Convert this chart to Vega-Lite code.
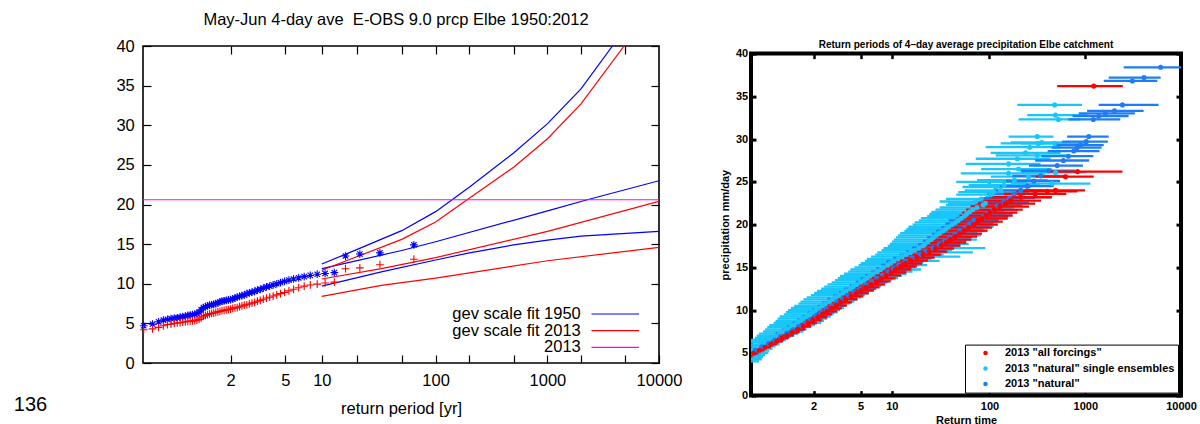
{
  "$schema": "https://vega.github.io/schema/vega-lite/v6.json",
  "padding": {"left": 12, "top": 10, "right": 0, "bottom": 0},
  "background": "white",
  "config": {
    "view": {"stroke": null},
    "font": "Liberation Sans",
    "axis": {"grid": false, "domain": false, "tickColor": "black", "labelColor": "black", "titleColor": "black", "labelFont": "Liberation Sans", "titleFont": "Liberation Sans"},
    "title": {"color": "black", "font": "Liberation Sans"}
  },
  "resolve": {"scale": {"color": "independent", "shape": "independent"}, "legend": {"color": "independent", "shape": "independent"}},
  "datasets": {
    "fits": [
      {"line": "b1", "fit": "1950", "g": 2.25, "v": 12.5}, {"line": "b1", "fit": "1950", "g": 2.97, "v": 14.3}, {"line": "b1", "fit": "1950", "g": 3.9, "v": 16.7}, {"line": "b1", "fit": "1950", "g": 4.6, "v": 19.1}, {"line": "b1", "fit": "1950", "g": 5.3, "v": 22.2}, {"line": "b1", "fit": "1950", "g": 6.21, "v": 26.5}, {"line": "b1", "fit": "1950", "g": 6.91, "v": 30.2}, {"line": "b1", "fit": "1950", "g": 7.6, "v": 34.6}, {"line": "b1", "fit": "1950", "g": 8.25, "v": 40.0}, {"line": "b1", "fit": "1950", "g": 9.21, "v": 48.0},
      {"line": "b2", "fit": "1950", "g": 2.25, "v": 11.9}, {"line": "b2", "fit": "1950", "g": 3.9, "v": 14.2}, {"line": "b2", "fit": "1950", "g": 4.6, "v": 15.3}, {"line": "b2", "fit": "1950", "g": 6.91, "v": 19.2}, {"line": "b2", "fit": "1950", "g": 7.73, "v": 20.6}, {"line": "b2", "fit": "1950", "g": 9.21, "v": 23.0},
      {"line": "b3", "fit": "1950", "g": 2.25, "v": 9.7}, {"line": "b3", "fit": "1950", "g": 3.48, "v": 11.5}, {"line": "b3", "fit": "1950", "g": 4.6, "v": 13.0}, {"line": "b3", "fit": "1950", "g": 5.3, "v": 13.9}, {"line": "b3", "fit": "1950", "g": 6.21, "v": 14.9}, {"line": "b3", "fit": "1950", "g": 6.91, "v": 15.5}, {"line": "b3", "fit": "1950", "g": 7.6, "v": 16.0}, {"line": "b3", "fit": "1950", "g": 9.21, "v": 16.6},
      {"line": "r1", "fit": "2013", "g": 2.25, "v": 11.7}, {"line": "r1", "fit": "2013", "g": 3.9, "v": 15.6}, {"line": "r1", "fit": "2013", "g": 4.6, "v": 17.8}, {"line": "r1", "fit": "2013", "g": 5.25, "v": 20.6}, {"line": "r1", "fit": "2013", "g": 6.21, "v": 24.7}, {"line": "r1", "fit": "2013", "g": 6.91, "v": 28.3}, {"line": "r1", "fit": "2013", "g": 7.6, "v": 32.7}, {"line": "r1", "fit": "2013", "g": 8.49, "v": 40.0}, {"line": "r1", "fit": "2013", "g": 9.21, "v": 46.0},
      {"line": "r2", "fit": "2013", "g": 2.25, "v": 10.6}, {"line": "r2", "fit": "2013", "g": 3.48, "v": 11.9}, {"line": "r2", "fit": "2013", "g": 4.6, "v": 13.3}, {"line": "r2", "fit": "2013", "g": 6.91, "v": 16.6}, {"line": "r2", "fit": "2013", "g": 9.21, "v": 20.4},
      {"line": "r3", "fit": "2013", "g": 2.25, "v": 8.4}, {"line": "r3", "fit": "2013", "g": 3.48, "v": 9.8}, {"line": "r3", "fit": "2013", "g": 4.6, "v": 10.7}, {"line": "r3", "fit": "2013", "g": 6.91, "v": 12.9}, {"line": "r3", "fit": "2013", "g": 9.21, "v": 14.6}
    ],
    "obs": [
      {"s": "1950", "g": -1.425, "v": 4.7}, {"s": "1950", "g": -1.243, "v": 4.9}, {"s": "1950", "g": -1.118, "v": 5.2}, {"s": "1950", "g": -1.02, "v": 5.4}, {"s": "1950", "g": -0.936, "v": 5.5}, {"s": "1950", "g": -0.862, "v": 5.6}, {"s": "1950", "g": -0.794, "v": 5.65}, {"s": "1950", "g": -0.732, "v": 5.7}, {"s": "1950", "g": -0.674, "v": 5.8}, {"s": "1950", "g": -0.619, "v": 5.85}, {"s": "1950", "g": -0.566, "v": 5.9}, {"s": "1950", "g": -0.515, "v": 6.0}, {"s": "1950", "g": -0.466, "v": 6.05}, {"s": "1950", "g": -0.419, "v": 6.1}, {"s": "1950", "g": -0.372, "v": 6.15}, {"s": "1950", "g": -0.327, "v": 6.25}, {"s": "1950", "g": -0.282, "v": 6.4}, {"s": "1950", "g": -0.238, "v": 6.7}, {"s": "1950", "g": -0.194, "v": 7.0}, {"s": "1950", "g": -0.151, "v": 7.1}, {"s": "1950", "g": -0.108, "v": 7.2}, {"s": "1950", "g": -0.066, "v": 7.3}, {"s": "1950", "g": -0.023, "v": 7.35}, {"s": "1950", "g": 0.019, "v": 7.4}, {"s": "1950", "g": 0.062, "v": 7.5}, {"s": "1950", "g": 0.104, "v": 7.6}, {"s": "1950", "g": 0.147, "v": 7.7}, {"s": "1950", "g": 0.19, "v": 7.8}, {"s": "1950", "g": 0.234, "v": 7.85}, {"s": "1950", "g": 0.278, "v": 7.9}, {"s": "1950", "g": 0.322, "v": 7.95}, {"s": "1950", "g": 0.367, "v": 8.0}, {"s": "1950", "g": 0.412, "v": 8.1}, {"s": "1950", "g": 0.458, "v": 8.2}, {"s": "1950", "g": 0.505, "v": 8.3}, {"s": "1950", "g": 0.553, "v": 8.4}, {"s": "1950", "g": 0.602, "v": 8.5}, {"s": "1950", "g": 0.651, "v": 8.6}, {"s": "1950", "g": 0.703, "v": 8.75}, {"s": "1950", "g": 0.755, "v": 8.85}, {"s": "1950", "g": 0.809, "v": 8.95}, {"s": "1950", "g": 0.865, "v": 9.05}, {"s": "1950", "g": 0.922, "v": 9.2}, {"s": "1950", "g": 0.982, "v": 9.3}, {"s": "1950", "g": 1.043, "v": 9.45}, {"s": "1950", "g": 1.108, "v": 9.6}, {"s": "1950", "g": 1.175, "v": 9.7}, {"s": "1950", "g": 1.246, "v": 9.85}, {"s": "1950", "g": 1.32, "v": 10.0}, {"s": "1950", "g": 1.399, "v": 10.15}, {"s": "1950", "g": 1.483, "v": 10.3}, {"s": "1950", "g": 1.572, "v": 10.45}, {"s": "1950", "g": 1.668, "v": 10.6}, {"s": "1950", "g": 1.773, "v": 10.75}, {"s": "1950", "g": 1.887, "v": 10.9}, {"s": "1950", "g": 2.013, "v": 11.05}, {"s": "1950", "g": 2.156, "v": 11.2}, {"s": "1950", "g": 2.318, "v": 11.3}, {"s": "1950", "g": 2.509, "v": 11.4}, {"s": "1950", "g": 2.74, "v": 13.5}, {"s": "1950", "g": 3.036, "v": 13.75}, {"s": "1950", "g": 3.45, "v": 13.9}, {"s": "1950", "g": 4.151, "v": 14.9},
      {"s": "2013", "g": -1.425, "v": 4.2}, {"s": "2013", "g": -1.243, "v": 4.3}, {"s": "2013", "g": -1.118, "v": 4.5}, {"s": "2013", "g": -1.02, "v": 4.7}, {"s": "2013", "g": -0.936, "v": 4.85}, {"s": "2013", "g": -0.862, "v": 4.9}, {"s": "2013", "g": -0.794, "v": 5.0}, {"s": "2013", "g": -0.732, "v": 5.05}, {"s": "2013", "g": -0.674, "v": 5.1}, {"s": "2013", "g": -0.619, "v": 5.15}, {"s": "2013", "g": -0.566, "v": 5.2}, {"s": "2013", "g": -0.515, "v": 5.25}, {"s": "2013", "g": -0.466, "v": 5.3}, {"s": "2013", "g": -0.419, "v": 5.3}, {"s": "2013", "g": -0.372, "v": 5.35}, {"s": "2013", "g": -0.327, "v": 5.4}, {"s": "2013", "g": -0.282, "v": 5.5}, {"s": "2013", "g": -0.238, "v": 5.7}, {"s": "2013", "g": -0.194, "v": 5.9}, {"s": "2013", "g": -0.151, "v": 6.0}, {"s": "2013", "g": -0.108, "v": 6.1}, {"s": "2013", "g": -0.066, "v": 6.2}, {"s": "2013", "g": -0.023, "v": 6.25}, {"s": "2013", "g": 0.019, "v": 6.3}, {"s": "2013", "g": 0.062, "v": 6.4}, {"s": "2013", "g": 0.104, "v": 6.45}, {"s": "2013", "g": 0.147, "v": 6.5}, {"s": "2013", "g": 0.19, "v": 6.6}, {"s": "2013", "g": 0.234, "v": 6.65}, {"s": "2013", "g": 0.278, "v": 6.7}, {"s": "2013", "g": 0.322, "v": 6.75}, {"s": "2013", "g": 0.367, "v": 6.8}, {"s": "2013", "g": 0.412, "v": 6.9}, {"s": "2013", "g": 0.458, "v": 6.95}, {"s": "2013", "g": 0.505, "v": 7.0}, {"s": "2013", "g": 0.553, "v": 7.1}, {"s": "2013", "g": 0.602, "v": 7.2}, {"s": "2013", "g": 0.651, "v": 7.3}, {"s": "2013", "g": 0.703, "v": 7.35}, {"s": "2013", "g": 0.755, "v": 7.45}, {"s": "2013", "g": 0.809, "v": 7.55}, {"s": "2013", "g": 0.865, "v": 7.65}, {"s": "2013", "g": 0.922, "v": 7.8}, {"s": "2013", "g": 0.982, "v": 7.9}, {"s": "2013", "g": 1.043, "v": 8.05}, {"s": "2013", "g": 1.108, "v": 8.2}, {"s": "2013", "g": 1.175, "v": 8.3}, {"s": "2013", "g": 1.246, "v": 8.45}, {"s": "2013", "g": 1.32, "v": 8.6}, {"s": "2013", "g": 1.399, "v": 8.75}, {"s": "2013", "g": 1.483, "v": 8.9}, {"s": "2013", "g": 1.572, "v": 9.1}, {"s": "2013", "g": 1.668, "v": 9.3}, {"s": "2013", "g": 1.773, "v": 9.5}, {"s": "2013", "g": 1.887, "v": 9.7}, {"s": "2013", "g": 2.013, "v": 9.85}, {"s": "2013", "g": 2.156, "v": 9.95}, {"s": "2013", "g": 2.318, "v": 10.1}, {"s": "2013", "g": 2.509, "v": 10.2}, {"s": "2013", "g": 2.74, "v": 11.9}, {"s": "2013", "g": 3.036, "v": 12.0}, {"s": "2013", "g": 3.45, "v": 12.4}, {"s": "2013", "g": 4.151, "v": 13.1}
    ],
    "leg": [
      {"label": "gev scale fit 1950", "fit": "1950", "v": 6.18},
      {"label": "gev scale fit 2013", "fit": "2013", "v": 4.08},
      {"label": "2013", "fit": "obs", "v": 1.98}
    ],
    "ens": [
      {"s":"S","v":4.0,"g":-1.30,"lo":-1.60,"hi":-0.95},{"s":"S","v":4.25,"g":-1.25,"lo":-1.55,"hi":-0.88},{"s":"S","v":4.5,"g":-1.20,"lo":-1.50,"hi":-0.85},{"s":"S","v":4.75,"g":-1.20,"lo":-1.55,"hi":-0.80},{"s":"S","v":5.0,"g":-1.15,"lo":-1.50,"hi":-0.72},{"s":"S","v":5.25,"g":-1.10,"lo":-1.45,"hi":-0.70},{"s":"S","v":5.5,"g":-1.05,"lo":-1.40,"hi":-0.62},{"s":"S","v":5.75,"g":-0.98,"lo":-1.35,"hi":-0.55},{"s":"S","v":6.0,"g":-0.90,"lo":-1.30,"hi":-0.45},{"s":"S","v":6.25,"g":-0.80,"lo":-1.25,"hi":-0.40},{"s":"S","v":6.5,"g":-0.72,"lo":-1.15,"hi":-0.30},{"s":"S","v":6.75,"g":-0.62,"lo":-1.05,"hi":-0.22},{"s":"S","v":7.0,"g":-0.55,"lo":-1.00,"hi":-0.10},{"s":"S","v":7.25,"g":-0.45,"lo":-0.95,"hi":0.00},{"s":"S","v":7.5,"g":-0.35,"lo":-0.85,"hi":0.12},{"s":"S","v":7.75,"g":-0.28,"lo":-0.80,"hi":0.20},{"s":"S","v":8.0,"g":-0.18,"lo":-0.75,"hi":0.30},{"s":"S","v":8.25,"g":-0.10,"lo":-0.70,"hi":0.40},{"s":"S","v":8.5,"g":-0.02,"lo":-0.60,"hi":0.55},{"s":"S","v":8.75,"g":0.05,"lo":-0.55,"hi":0.62},{"s":"S","v":9.0,"g":0.12,"lo":-0.50,"hi":0.70},{"s":"S","v":9.25,"g":0.20,"lo":-0.45,"hi":0.78},{"s":"S","v":9.5,"g":0.28,"lo":-0.35,"hi":0.85},{"s":"S","v":9.75,"g":0.35,"lo":-0.30,"hi":0.95},{"s":"S","v":10.0,"g":0.42,"lo":-0.25,"hi":1.00},{"s":"S","v":10.25,"g":0.50,"lo":-0.18,"hi":1.10},{"s":"S","v":10.5,"g":0.58,"lo":-0.10,"hi":1.15},{"s":"S","v":10.75,"g":0.65,"lo":0.00,"hi":1.25},{"s":"S","v":11.0,"g":0.75,"lo":0.05,"hi":1.35},{"s":"S","v":11.25,"g":0.82,"lo":0.12,"hi":1.42},{"s":"S","v":11.5,"g":0.90,"lo":0.20,"hi":1.52},{"s":"S","v":11.75,"g":0.98,"lo":0.30,"hi":1.60},{"s":"S","v":12.0,"g":1.07,"lo":0.38,"hi":1.70},{"s":"S","v":12.25,"g":1.15,"lo":0.45,"hi":1.80},{"s":"S","v":12.5,"g":1.25,"lo":0.55,"hi":1.88},{"s":"S","v":12.75,"g":1.32,"lo":0.62,"hi":1.98},{"s":"S","v":13.0,"g":1.40,"lo":0.70,"hi":2.05},{"s":"S","v":13.25,"g":1.50,"lo":0.80,"hi":2.15},{"s":"S","v":13.5,"g":1.58,"lo":0.88,"hi":2.25},{"s":"S","v":13.75,"g":1.65,"lo":0.95,"hi":2.40},{"s":"S","v":14.0,"g":1.72,"lo":1.00,"hi":2.50},{"s":"S","v":14.25,"g":1.80,"lo":1.10,"hi":2.60},{"s":"S","v":14.5,"g":1.90,"lo":1.20,"hi":2.75},{"s":"S","v":14.75,"g":1.98,"lo":1.25,"hi":2.95},{"s":"S","v":15.0,"g":2.05,"lo":1.35,"hi":2.80},{"s":"S","v":15.25,"g":2.15,"lo":1.45,"hi":3.10},{"s":"S","v":15.5,"g":2.22,"lo":1.50,"hi":3.00},{"s":"S","v":15.75,"g":2.30,"lo":1.60,"hi":3.40},{"s":"S","v":16.0,"g":2.40,"lo":1.65,"hi":3.20},{"s":"S","v":16.25,"g":2.50,"lo":1.75,"hi":3.90},{"s":"S","v":16.5,"g":2.60,"lo":1.85,"hi":3.50},{"s":"S","v":16.75,"g":2.70,"lo":1.90,"hi":4.20},{"s":"S","v":17.0,"g":2.80,"lo":2.00,"hi":3.70},{"s":"S","v":17.25,"g":2.90,"lo":2.05,"hi":4.50},{"s":"S","v":17.5,"g":3.00,"lo":2.15,"hi":3.90},{"s":"S","v":17.75,"g":3.05,"lo":2.20,"hi":4.10},{"s":"S","v":18.0,"g":3.12,"lo":2.25,"hi":4.00},{"s":"S","v":18.25,"g":3.20,"lo":2.30,"hi":4.30},{"s":"S","v":18.5,"g":3.25,"lo":2.35,"hi":4.15},{"s":"S","v":18.75,"g":3.32,"lo":2.40,"hi":4.40},{"s":"S","v":19.0,"g":3.40,"lo":2.45,"hi":4.30},{"s":"S","v":19.25,"g":3.48,"lo":2.55,"hi":4.55},{"s":"S","v":19.5,"g":3.55,"lo":2.60,"hi":4.45},{"s":"S","v":19.75,"g":3.62,"lo":2.65,"hi":4.70},{"s":"S","v":20.0,"g":3.70,"lo":2.75,"hi":4.65},{"s":"S","v":20.25,"g":3.78,"lo":2.80,"hi":4.80},{"s":"S","v":20.5,"g":3.85,"lo":2.90,"hi":4.75},{"s":"S","v":20.75,"g":3.92,"lo":2.95,"hi":4.90},{"s":"S","v":21.0,"g":4.00,"lo":3.10,"hi":4.85},{"s":"S","v":21.25,"g":4.05,"lo":3.15,"hi":5.00},{"s":"S","v":21.5,"g":4.12,"lo":3.20,"hi":4.95},{"s":"S","v":21.75,"g":4.20,"lo":3.30,"hi":5.10},{"s":"S","v":22.0,"g":4.30,"lo":3.40,"hi":5.20},
      {"s":"S","v":22.3,"g":4.45,"lo":3.55,"hi":5.35},{"s":"S","v":22.5,"g":4.50,"lo":3.60,"hi":5.45},{"s":"S","v":22.7,"g":4.27,"lo":3.40,"hi":5.20},{"s":"S","v":23.0,"g":4.40,"lo":3.55,"hi":5.30},{"s":"S","v":23.2,"g":5.35,"lo":4.50,"hi":6.10},{"s":"S","v":23.5,"g":4.63,"lo":3.80,"hi":5.45},{"s":"S","v":23.8,"g":4.70,"lo":3.85,"hi":5.55},{"s":"S","v":24.0,"g":4.87,"lo":4.00,"hi":5.70},{"s":"S","v":24.4,"g":4.75,"lo":3.95,"hi":5.60},{"s":"S","v":24.6,"g":4.95,"lo":4.10,"hi":5.80},{"s":"S","v":24.8,"g":6.11,"lo":5.11,"hi":7.03},{"s":"S","v":25.0,"g":4.60,"lo":3.80,"hi":5.50},{"s":"S","v":25.2,"g":5.20,"lo":4.30,"hi":6.00},{"s":"S","v":25.6,"g":5.54,"lo":4.63,"hi":6.43},{"s":"S","v":26.0,"g":5.06,"lo":3.91,"hi":5.95},{"s":"S","v":26.1,"g":6.19,"lo":5.35,"hi":6.91},{"s":"S","v":26.5,"g":5.30,"lo":4.40,"hi":6.10},{"s":"S","v":27.1,"g":5.06,"lo":4.03,"hi":5.83},{"s":"S","v":27.7,"g":5.27,"lo":4.27,"hi":6.07},{"s":"S","v":28.1,"g":5.75,"lo":4.75,"hi":6.55},{"s":"S","v":28.4,"g":5.47,"lo":4.63,"hi":6.31},{"s":"S","v":29.05,"g":5.57,"lo":4.51,"hi":6.31},{"s":"S","v":29.5,"g":5.77,"lo":4.87,"hi":6.43},{"s":"S","v":29.5,"g":6.17,"lo":5.35,"hi":6.91},{"s":"S","v":29.6,"g":5.86,"lo":5.11,"hi":6.55},{"s":"S","v":30.3,"g":5.75,"lo":5.06,"hi":6.14},{"s":"S","v":32.3,"g":6.26,"lo":5.30,"hi":6.79},{"s":"S","v":32.8,"g":6.19,"lo":5.51,"hi":6.95},{"s":"S","v":34.0,"g":6.17,"lo":5.27,"hi":6.83},
      {"s":"N","v":4.9,"g":-1.20,"lo":-1.40,"hi":-1.00},{"s":"N","v":5.3,"g":-1.04,"lo":-1.24,"hi":-0.84},{"s":"N","v":5.7,"g":-0.88,"lo":-1.08,"hi":-0.66},{"s":"N","v":6.1,"g":-0.72,"lo":-0.95,"hi":-0.50},{"s":"N","v":6.5,"g":-0.57,"lo":-0.80,"hi":-0.34},{"s":"N","v":6.9,"g":-0.43,"lo":-0.68,"hi":-0.18},{"s":"N","v":7.3,"g":-0.28,"lo":-0.55,"hi":-0.02},{"s":"N","v":7.7,"g":-0.13,"lo":-0.40,"hi":0.14},{"s":"N","v":8.1,"g":0.01,"lo":-0.27,"hi":0.28},{"s":"N","v":8.5,"g":0.16,"lo":-0.14,"hi":0.45},{"s":"N","v":8.9,"g":0.28,"lo":-0.02,"hi":0.58},{"s":"N","v":9.3,"g":0.42,"lo":0.10,"hi":0.72},{"s":"N","v":9.7,"g":0.54,"lo":0.22,"hi":0.86},{"s":"N","v":10.1,"g":0.67,"lo":0.34,"hi":1.00},{"s":"N","v":10.5,"g":0.80,"lo":0.46,"hi":1.14},{"s":"N","v":10.9,"g":0.92,"lo":0.58,"hi":1.26},{"s":"N","v":11.3,"g":1.06,"lo":0.70,"hi":1.42},{"s":"N","v":11.7,"g":1.20,"lo":0.84,"hi":1.56},{"s":"N","v":12.1,"g":1.34,"lo":0.98,"hi":1.70},{"s":"N","v":12.5,"g":1.48,"lo":1.10,"hi":1.86},{"s":"N","v":12.9,"g":1.62,"lo":1.24,"hi":2.00},{"s":"N","v":13.3,"g":1.76,"lo":1.38,"hi":2.14},{"s":"N","v":13.7,"g":1.89,"lo":1.50,"hi":2.28},{"s":"N","v":14.1,"g":2.02,"lo":1.62,"hi":2.42},{"s":"N","v":14.5,"g":2.16,"lo":1.75,"hi":2.58},{"s":"N","v":14.9,"g":2.29,"lo":1.88,"hi":2.72},{"s":"N","v":15.3,"g":2.42,"lo":2.00,"hi":2.86},{"s":"N","v":15.7,"g":2.57,"lo":2.12,"hi":3.02},{"s":"N","v":16.1,"g":2.74,"lo":2.28,"hi":3.20},{"s":"N","v":16.5,"g":2.91,"lo":2.44,"hi":3.38},{"s":"N","v":16.9,"g":3.08,"lo":2.60,"hi":3.56},{"s":"N","v":17.3,"g":3.24,"lo":2.74,"hi":3.74},{"s":"N","v":17.7,"g":3.39,"lo":2.88,"hi":3.90},{"s":"N","v":18.1,"g":3.52,"lo":3.00,"hi":4.04},{"s":"N","v":18.5,"g":3.64,"lo":3.10,"hi":4.18},{"s":"N","v":18.9,"g":3.77,"lo":3.22,"hi":4.32},{"s":"N","v":19.3,"g":3.89,"lo":3.32,"hi":4.46},{"s":"N","v":19.7,"g":4.02,"lo":3.44,"hi":4.60},{"s":"N","v":20.1,"g":4.12,"lo":3.54,"hi":4.70},{"s":"N","v":20.5,"g":4.22,"lo":3.62,"hi":4.82},{"s":"N","v":20.9,"g":4.45,"lo":3.85,"hi":5.05},{"s":"N","v":21.3,"g":4.56,"lo":3.95,"hi":5.15},{"s":"N","v":21.7,"g":4.68,"lo":4.05,"hi":5.28},{"s":"N","v":22.2,"g":4.79,"lo":4.15,"hi":5.40},{"s":"N","v":22.6,"g":4.95,"lo":4.30,"hi":5.55},{"s":"N","v":23.1,"g":5.08,"lo":4.45,"hi":5.70},{"s":"N","v":23.6,"g":5.19,"lo":4.55,"hi":5.82},{"s":"N","v":24.0,"g":5.35,"lo":4.70,"hi":5.98},{"s":"N","v":24.5,"g":5.51,"lo":4.85,"hi":6.15},{"s":"N","v":25.1,"g":5.67,"lo":5.00,"hi":6.30},{"s":"N","v":25.7,"g":5.83,"lo":5.15,"hi":6.48},{"s":"N","v":26.3,"g":6.02,"lo":5.35,"hi":6.66},{"s":"N","v":26.9,"g":6.23,"lo":5.55,"hi":6.85},{"s":"N","v":27.5,"g":6.38,"lo":5.70,"hi":7.00},{"s":"N","v":28.0,"g":6.50,"lo":5.85,"hi":7.10},{"s":"N","v":28.6,"g":6.63,"lo":6.00,"hi":7.25},{"s":"N","v":29.0,"g":6.71,"lo":6.10,"hi":7.30},{"s":"N","v":29.3,"g":6.79,"lo":6.20,"hi":7.35},{"s":"N","v":29.7,"g":6.93,"lo":6.35,"hi":7.45},{"s":"N","v":30.3,"g":6.99,"lo":6.47,"hi":7.47},{"s":"N","v":32.3,"g":7.10,"lo":6.50,"hi":7.75},{"s":"N","v":32.7,"g":7.23,"lo":6.60,"hi":7.95},{"s":"N","v":33.0,"g":7.39,"lo":6.75,"hi":8.10},{"s":"N","v":33.3,"g":7.61,"lo":6.95,"hi":8.31},{"s":"N","v":34.0,"g":7.80,"lo":7.23,"hi":8.67},{"s":"N","v":36.8,"g":8.04,"lo":7.35,"hi":8.64},{"s":"N","v":37.2,"g":8.32,"lo":7.47,"hi":8.72},{"s":"N","v":38.4,"g":8.72,"lo":7.83,"hi":9.40},
      {"s":"A","v":4.6,"g":-1.22,"lo":-1.34,"hi":-1.10},{"s":"A","v":4.95,"g":-1.08,"lo":-1.20,"hi":-0.96},{"s":"A","v":5.3,"g":-0.94,"lo":-1.07,"hi":-0.81},{"s":"A","v":5.65,"g":-0.80,"lo":-0.93,"hi":-0.66},{"s":"A","v":6.0,"g":-0.66,"lo":-0.80,"hi":-0.52},{"s":"A","v":6.35,"g":-0.52,"lo":-0.67,"hi":-0.37},{"s":"A","v":6.7,"g":-0.40,"lo":-0.55,"hi":-0.24},{"s":"A","v":7.05,"g":-0.27,"lo":-0.43,"hi":-0.11},{"s":"A","v":7.4,"g":-0.14,"lo":-0.31,"hi":0.03},{"s":"A","v":7.75,"g":-0.01,"lo":-0.19,"hi":0.17},{"s":"A","v":8.1,"g":0.12,"lo":-0.07,"hi":0.31},{"s":"A","v":8.45,"g":0.24,"lo":0.04,"hi":0.44},{"s":"A","v":8.8,"g":0.35,"lo":0.14,"hi":0.56},{"s":"A","v":9.15,"g":0.47,"lo":0.25,"hi":0.69},{"s":"A","v":9.5,"g":0.58,"lo":0.35,"hi":0.81},{"s":"A","v":9.85,"g":0.69,"lo":0.45,"hi":0.93},{"s":"A","v":10.2,"g":0.80,"lo":0.55,"hi":1.05},{"s":"A","v":10.55,"g":0.91,"lo":0.65,"hi":1.17},{"s":"A","v":10.9,"g":1.02,"lo":0.75,"hi":1.29},{"s":"A","v":11.25,"g":1.14,"lo":0.86,"hi":1.42},{"s":"A","v":11.6,"g":1.27,"lo":0.98,"hi":1.56},{"s":"A","v":11.95,"g":1.39,"lo":1.09,"hi":1.69},{"s":"A","v":12.3,"g":1.51,"lo":1.20,"hi":1.82},{"s":"A","v":12.65,"g":1.63,"lo":1.31,"hi":1.95},{"s":"A","v":13.0,"g":1.76,"lo":1.43,"hi":2.09},{"s":"A","v":13.35,"g":1.88,"lo":1.54,"hi":2.22},{"s":"A","v":13.7,"g":1.99,"lo":1.64,"hi":2.34},{"s":"A","v":14.05,"g":2.11,"lo":1.75,"hi":2.47},{"s":"A","v":14.4,"g":2.23,"lo":1.86,"hi":2.60},{"s":"A","v":14.75,"g":2.34,"lo":1.96,"hi":2.72},{"s":"A","v":15.1,"g":2.46,"lo":2.07,"hi":2.85},{"s":"A","v":15.45,"g":2.58,"lo":2.18,"hi":2.98},{"s":"A","v":15.8,"g":2.71,"lo":2.30,"hi":3.12},{"s":"A","v":16.15,"g":2.86,"lo":2.44,"hi":3.28},{"s":"A","v":16.5,"g":3.01,"lo":2.58,"hi":3.44},{"s":"A","v":16.85,"g":3.15,"lo":2.71,"hi":3.59},{"s":"A","v":17.2,"g":3.30,"lo":2.85,"hi":3.75},{"s":"A","v":17.55,"g":3.44,"lo":2.98,"hi":3.90},{"s":"A","v":17.9,"g":3.56,"lo":3.08,"hi":4.04},{"s":"A","v":18.25,"g":3.66,"lo":3.16,"hi":4.16},{"s":"A","v":18.6,"g":3.78,"lo":3.26,"hi":4.30},{"s":"A","v":18.95,"g":3.88,"lo":3.35,"hi":4.42},{"s":"A","v":19.3,"g":3.99,"lo":3.45,"hi":4.55},{"s":"A","v":19.65,"g":4.10,"lo":3.54,"hi":4.66},{"s":"A","v":20.0,"g":4.22,"lo":3.64,"hi":4.80},{"s":"A","v":20.35,"g":4.32,"lo":3.72,"hi":4.92},{"s":"A","v":20.7,"g":4.42,"lo":3.80,"hi":5.04},{"s":"A","v":21.05,"g":4.52,"lo":3.88,"hi":5.16},{"s":"A","v":21.4,"g":4.61,"lo":3.95,"hi":5.27},{"s":"A","v":21.75,"g":4.72,"lo":4.04,"hi":5.40},{"s":"A","v":22.1,"g":4.85,"lo":4.15,"hi":5.55},{"s":"A","v":22.45,"g":4.98,"lo":4.26,"hi":5.70},{"s":"A","v":22.8,"g":5.11,"lo":4.38,"hi":5.84},{"s":"A","v":23.2,"g":5.35,"lo":4.60,"hi":6.10},{"s":"A","v":23.6,"g":5.70,"lo":4.95,"hi":6.45},{"s":"A","v":23.9,"g":5.99,"lo":5.25,"hi":6.72},{"s":"A","v":24.0,"g":6.19,"lo":5.45,"hi":6.90},{"s":"A","v":25.6,"g":6.43,"lo":5.71,"hi":7.11},{"s":"A","v":26.2,"g":6.72,"lo":6.02,"hi":7.80},{"s":"A","v":36.2,"g":7.11,"lo":6.23,"hi":7.81}
    ]
  },
  "bounds": "flush",
  "spacing": 92,
  "hconcat": [
    {
      "width": 516,
      "height": 317,
      "view": {"stroke": "black", "strokeWidth": 1.6},
      "title": {"text": "May-Jun 4-day ave \u00a0E-OBS 9.0 prcp Elbe 1950:2012", "fontSize": 16.5, "fontWeight": "normal", "offset": 10, "anchor": "middle", "dx": -5},
      "layer": [
        {
          "data": {"name": "fits"},
          "mark": {"type": "line", "strokeWidth": 1.2, "clip": true},
          "encoding": {
            "x": {"field": "g", "type": "quantitative", "scale": {"domain": [-1.44, 9.2103], "nice": false, "zero": false},
              "axis": {"orient": "bottom", "values": [0.3665, 1.4999, 2.2504, 2.9702, 3.9019, 4.6001, 5.2958, 6.2136, 6.9073, 7.6006, 8.5171, 9.21],
                "labelExpr": "datum.value < 0.5 ? '2' : datum.value < 1.6 ? '5' : datum.value < 2.3 ? '10' : abs(datum.value - 4.6) < 0.1 ? '100' : abs(datum.value - 6.9073) < 0.1 ? '1000' : datum.value > 9 ? '10000' : ''",
                "tickSize": -8, "tickWidth": 1.2, "labelPadding": 17.8, "labelFontSize": 16.5, "labelFlush": false, "labelOverlap": false,
                "title": "return period [yr]", "titleFontSize": 16.5, "titleFontWeight": "normal", "titlePadding": 11}},
            "y": {"field": "v", "type": "quantitative", "scale": {"domain": [0, 40], "nice": false},
              "axis": {"orient": "left", "values": [0, 5, 10, 15, 20, 25, 30, 35, 40], "tickSize": -8, "tickWidth": 1.2, "labelPadding": 16.7, "labelFontSize": 16.5,
                "title": "136", "titleAngle": 0, "titleFontSize": 20, "titleFontWeight": "normal", "titleAlign": "left", "titleBaseline": "middle", "titleX": -129.7, "titleY": 358.8}},
            "detail": {"field": "line"},
            "color": {"field": "fit", "type": "nominal", "scale": {"domain": ["1950", "2013", "obs"], "range": ["#0000ff", "#ff0000", "#ff00ff"]}, "legend": null}
          }
        },
        {
          "data": {"values": [{"v": 20.6}]},
          "mark": {"type": "rule", "color": "#ff00ff", "strokeWidth": 1.2},
          "encoding": {"y": {"field": "v", "type": "quantitative", "axis": null, "scale": {"domain": [0, 40], "nice": false}}}
        },
        {
          "data": {"name": "obs"},
          "mark": {"type": "point", "filled": false, "size": 60, "strokeWidth": 1.1, "opacity": 1},
          "encoding": {
            "x": {"field": "g", "type": "quantitative", "scale": {"domain": [-1.44, 9.2103], "nice": false, "zero": false},
              "axis": {"orient": "top", "values": [0.3665, 1.4999, 2.2504, 2.9702, 3.9019, 4.6001, 5.2958, 6.2136, 6.9073, 7.6006, 8.5171], "labels": false, "tickSize": -8, "tickWidth": 1.2, "title": null}},
            "y": {"field": "v", "type": "quantitative", "scale": {"domain": [0, 40], "nice": false},
              "axis": {"orient": "right", "values": [0, 5, 10, 15, 20, 25, 30, 35, 40], "labels": false, "tickSize": -8, "tickWidth": 1.2, "title": null}},
            "color": {"field": "s", "type": "nominal", "scale": {"domain": ["1950", "2013", "obs"], "range": ["#0000ff", "#ff0000", "#ff00ff"]}, "legend": null},
            "shape": {"field": "s", "type": "nominal", "scale": {"domain": ["1950", "2013"], "range": ["M-1,0L1,0M0,-1L0,1M-0.7,-0.7L0.7,0.7M-0.7,0.7L0.7,-0.7", "M-1,0L1,0M0,-1L0,1"]}, "legend": null}
          }
        },
        {
          "data": {"name": "leg"},
          "mark": {"type": "rule", "strokeWidth": 1.2},
          "encoding": {
            "x": {"datum": 7.817, "type": "quantitative", "axis": null, "scale": {"domain": [-1.44, 9.2103], "nice": false, "zero": false}},
            "x2": {"datum": 8.799},
            "y": {"field": "v", "type": "quantitative", "axis": null, "scale": {"domain": [0, 40], "nice": false}},
            "color": {"field": "fit", "type": "nominal", "scale": {"domain": ["1950", "2013", "obs"], "range": ["#0000ff", "#ff0000", "#ff00ff"]}, "legend": null}
          }
        },
        {
          "data": {"name": "leg"},
          "mark": {"type": "text", "align": "right", "baseline": "middle", "fontSize": 16.5, "color": "black"},
          "encoding": {
            "x": {"datum": 7.596, "type": "quantitative", "axis": null, "scale": {"domain": [-1.44, 9.2103], "nice": false, "zero": false}},
            "y": {"field": "v", "type": "quantitative", "axis": null, "scale": {"domain": [0, 40], "nice": false}},
            "text": {"field": "label"}
          }
        }
      ]
    },
    {
      "bounds": "flush",
      "spacing": 6.6,
      "vconcat": [
        {
          "width": 430,
          "height": 1,
          "data": {"values": [{}]},
          "mark": {"type": "point", "opacity": 0},
          "encoding": {}
        },
        {
          "width": 430,
          "height": 342,
          "view": {"stroke": "black", "strokeWidth": 4},
          "title": {"text": "Return periods of 4–day average precipitation Elbe catchment", "fontSize": 10, "fontWeight": "bold", "offset": -2, "anchor": "middle"},
          "data": {"name": "ens"},
          "resolve": {"scale": {"color": "independent"}, "legend": {"color": "independent"}},
          "layer": [
            {
              "mark": {"type": "rule", "strokeWidth": 2.3, "clip": true},
              "encoding": {
                "x": {"field": "lo", "type": "quantitative", "scale": {"domain": [-1.14, 9.2103], "nice": false, "zero": false},
                  "axis": {"orient": "bottom", "values": [0.3665, 1.4999, 2.2504, 4.6001, 6.9073, 9.21],
                    "labelExpr": "datum.value < 0.5 ? '2' : datum.value < 1.6 ? '5' : datum.value < 2.3 ? '10' : datum.value < 5 ? '100' : datum.value < 8 ? '1000' : '10000'",
                    "tickSize": -5, "tickWidth": 2.5, "labelPadding": 9.5, "labelFontSize": 11, "labelFontWeight": "bold", "labelFlush": false, "labelOverlap": false,
                    "title": "Return time", "titleFontSize": 11, "titleFontWeight": "bold", "titlePadding": 3}},
                "x2": {"field": "hi"},
                "y": {"field": "v", "type": "quantitative", "scale": {"domain": [0, 40], "nice": false},
                  "axis": {"orient": "left", "values": [0, 5, 10, 15, 20, 25, 30, 35, 40], "tickSize": -5, "tickWidth": 3, "labelPadding": 8.3, "labelFontSize": 11, "labelFontWeight": "bold",
                    "title": "precipitation mm/day", "titleFontSize": 11, "titleFontWeight": "bold", "titlePadding": 4.5}},
                "color": {"field": "s", "type": "nominal", "scale": {"domain": ["A", "S", "N"], "range": ["#ff0000", "#19c6fa", "#1e7cf5"]}, "legend": null}
              }
            },
            {
              "mark": {"type": "point", "filled": true, "size": 26, "opacity": 1, "clip": true},
              "encoding": {
                "x": {"field": "g", "type": "quantitative", "scale": {"domain": [-1.14, 9.2103], "nice": false, "zero": false},
                  "axis": {"orient": "top", "values": [0.3665, 1.4999, 2.2504, 4.6001, 6.9073], "labels": false, "tickSize": -5, "tickWidth": 2.5, "title": null}},
                "y": {"field": "v", "type": "quantitative", "scale": {"domain": [0, 40], "nice": false},
                  "axis": {"orient": "right", "values": [0, 5, 10, 15, 20, 25, 30, 35, 40], "labels": false, "tickSize": -5, "tickWidth": 3, "title": null}},
                "color": {"field": "s", "type": "nominal", "scale": {"domain": ["A", "S", "N"], "range": ["#ff0000", "#19c6fa", "#1e7cf5"]},
                  "legend": {"title": null, "orient": "bottom-right", "offset": 3, "symbolType": "circle", "symbolSize": 20, "symbolStrokeWidth": 0,
                    "labelFontSize": 11, "labelFontWeight": "bold", "labelFont": "Liberation Sans", "labelColor": "black", "labelLimit": 400,
                    "strokeColor": "black", "fillColor": "white", "padding": 3, "rowPadding": 3.5, "symbolOffset": 12, "labelOffset": 14,
                    "labelExpr": "datum.label == 'A' ? '2013 \"all forcings\"' : datum.label == 'S' ? '2013 \"natural\" single ensembles' : '2013 \"natural\"'"}}
              }
            }
          ]
        }
      ]
    }
  ]
}
